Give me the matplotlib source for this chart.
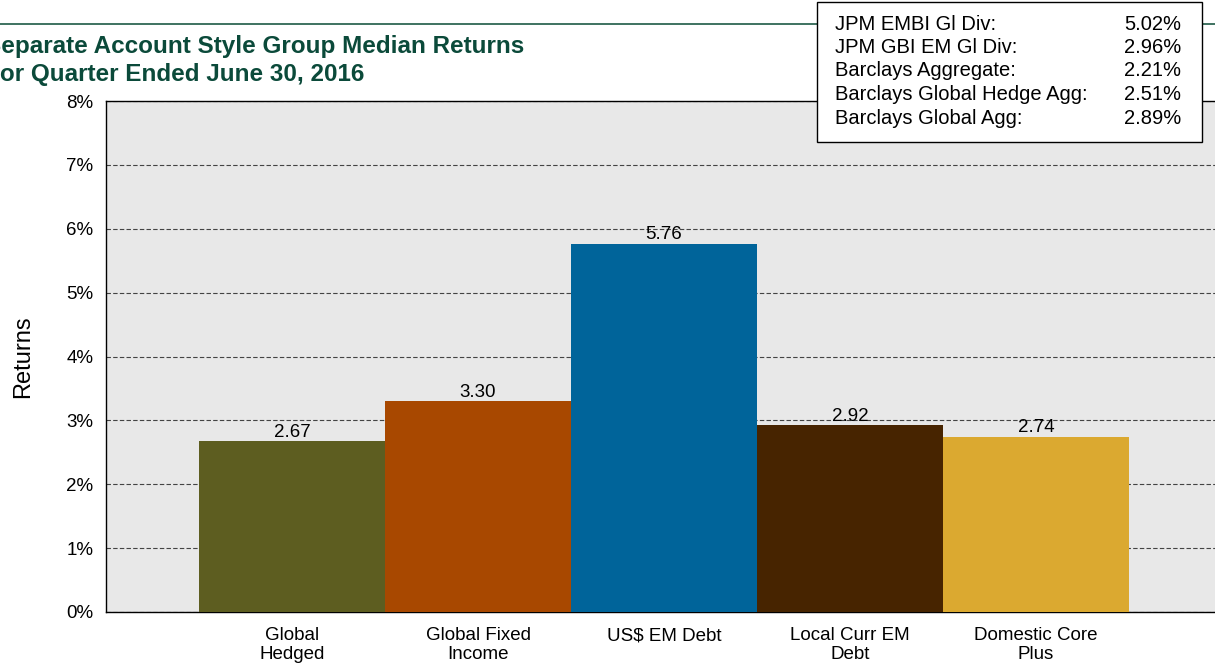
import matplotlib
matplotlib.use('Agg')
import matplotlib.pyplot as plt
from matplotlib.ticker import FuncFormatter
from matplotlib.patches import Rectangle
from matplotlib.lines import Line2D

# -- data
styles = ['Global\nHedged', 'Global Fixed\nIncome', 'US$ EM Debt', 'Local Curr EM\nDebt', 'Domestic Core\nPlus']
median_returns = [2.67, 3.30, 5.76, 2.92, 2.74]
bar_colors = ['#5d5d20', '#a84800', '#00649a', '#472400', '#dba930']

index_names = ['JPM EMBI Gl Div:', 'JPM GBI EM Gl Div:', 'Barclays Aggregate:',
               'Barclays Global Hedge Agg:', 'Barclays Global Agg:']
index_returns = [5.02, 2.96, 2.21, 2.51, 2.89]

plt.rcParams['font.family'] = ['Liberation Sans', 'DejaVu Sans']

W, H = 1215, 665
fig = plt.figure(figsize=(W / 100, H / 100), dpi=100)

# axes placed in pixel terms; right edge runs a bit past the figure
ax = fig.add_axes([106 / W, (H - 612) / H, (1222 - 106) / W, (612 - 101) / H])
ax.set_facecolor('#e8e8e8')

xs = list(range(len(styles)))
ax.bar(xs, median_returns, width=1.0, color=bar_colors, zorder=3)
for x, v in zip(xs, median_returns):
    ax.annotate('%.2f' % v, (x, v), xytext=(0, 0.5), textcoords='offset points',
                ha='center', va='bottom', fontsize=13.5, zorder=4)

ax.set_xlim(-1, 5)
ax.set_ylim(0, 8)
ax.set_yticks(range(0, 9))
ax.yaxis.set_major_formatter(FuncFormatter(lambda v, p: '%d%%' % v))
ax.set_xticks(xs)
ax.set_xticklabels(styles, fontsize=13.5, linespacing=1.1)
ax.tick_params(axis='both', length=0, labelsize=13.5)
ax.tick_params(axis='x', pad=11)
ax.tick_params(axis='y', pad=9)
ax.grid(axis='y', color='#444444', linestyle=(0, (4, 2)), linewidth=0.8, zorder=1)
ax.grid(axis='x', visible=False)
for s in ax.spines.values():
    s.set_linewidth(1.0)
    s.set_color('black')
ax.set_ylabel('Returns', fontsize=17)
ax.yaxis.set_label_coords(-0.064, 0.5)

# title + rule at top
green = '#0b4a3a'
fig.add_artist(Line2D([0, 1], [1 - 24 / H, 1 - 24 / H], color='#1e5a46', linewidth=1.2))
fig.text(-15 / W, 1 - 46 / H, 'Separate Account Style Group Median Returns', fontsize=17.5,
         fontweight='bold', color=green, ha='left', va='center')
fig.text(-15 / W, 1 - 74 / H, 'For Quarter Ended June 30, 2016', fontsize=17.5,
         fontweight='bold', color=green, ha='left', va='center')

# index returns box
fig.add_artist(Rectangle((817 / W, 1 - 142 / H), (1202 - 817) / W, 140 / H,
                         transform=fig.transFigure, facecolor='white', edgecolor='black',
                         linewidth=1.0, zorder=5))
for i, (name, val) in enumerate(zip(index_names, index_returns)):
    yy = 1 - (24 + i * 23.5) / H
    fig.text(835 / W, yy, name, fontsize=14.5, ha='left', va='center', zorder=6)
    fig.text(1181 / W, yy, '%.2f%%' % val, fontsize=14.5, ha='right', va='center', zorder=6)

plt.savefig('out.png', dpi=100)
